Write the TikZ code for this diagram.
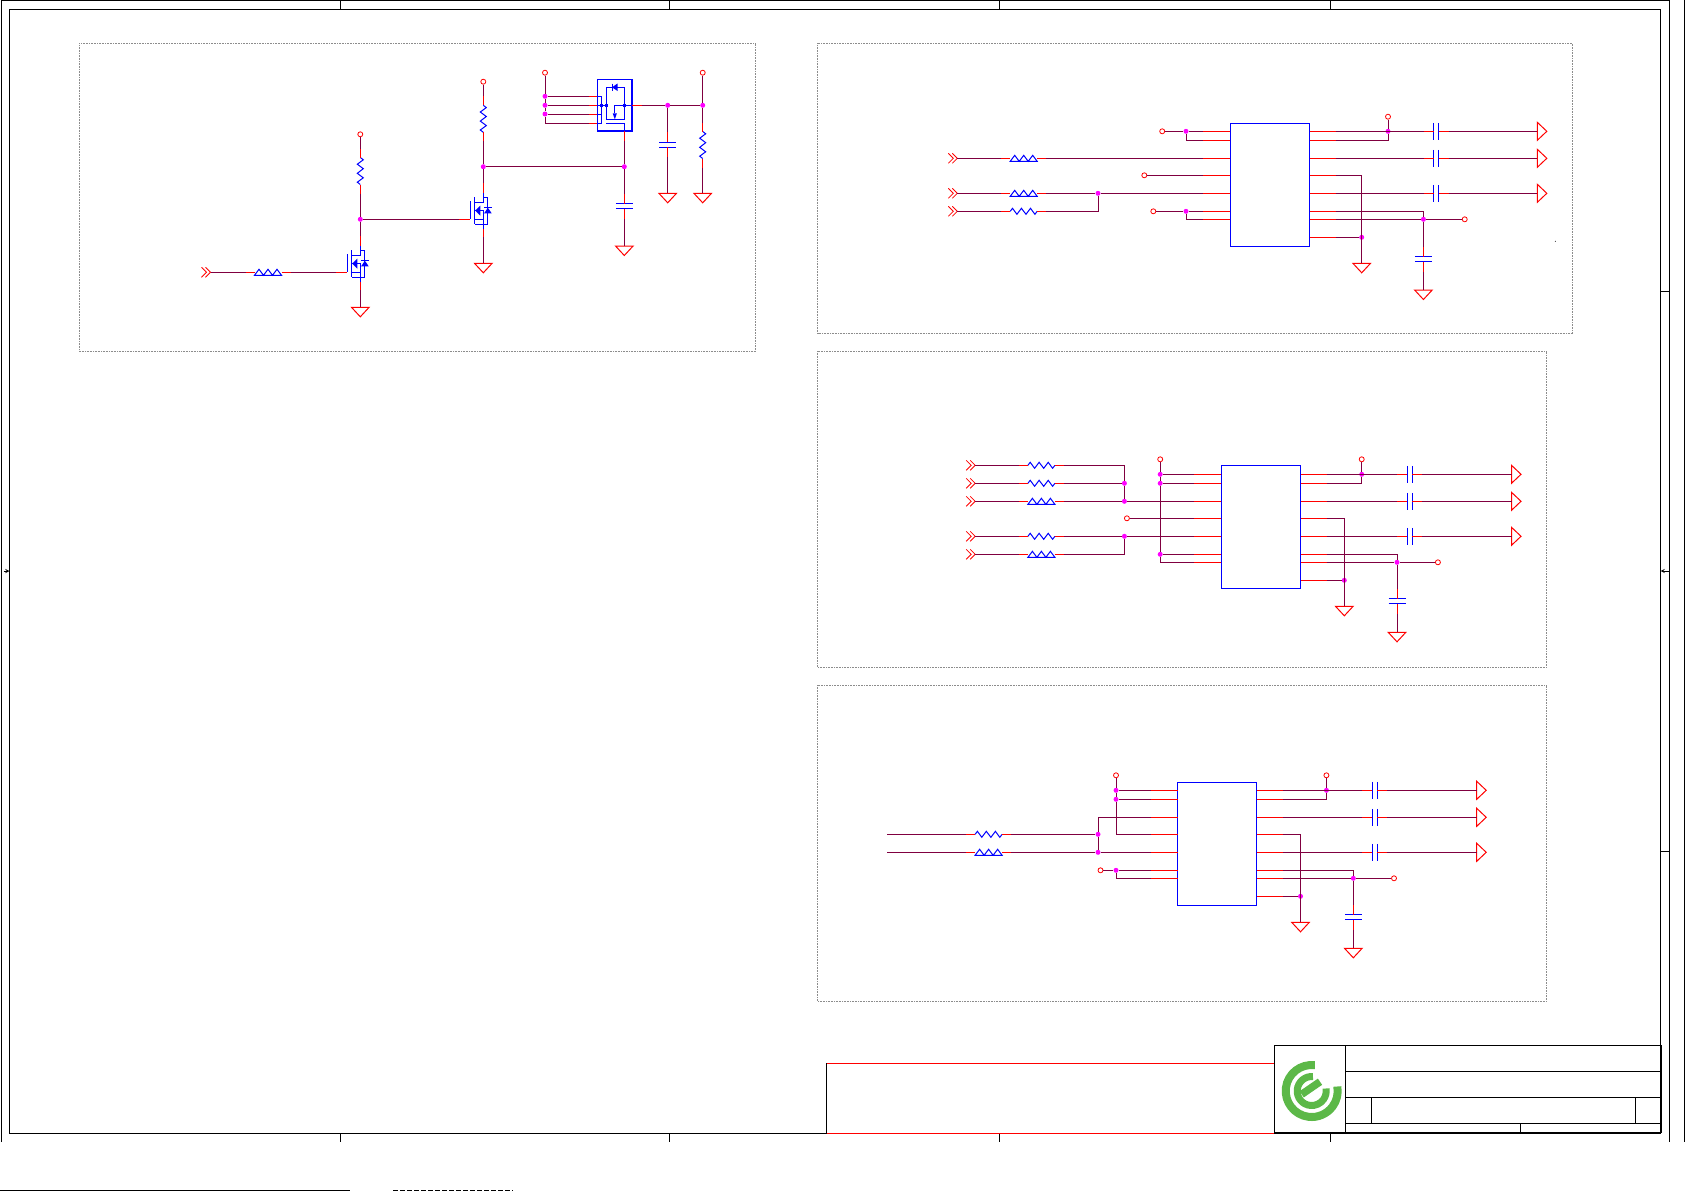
\documentclass[tikz,border=0pt]{standalone}
\definecolor{wirecol}{RGB}{128,0,64}
\definecolor{logocol}{RGB}{92,184,72}
\definecolor{jointcol}{RGB}{255,0,255}
\tikzset{
	x=1pt, y=-1pt,
	wirepath/.style={draw=wirecol, line width=1pt},
	pinline/.style={draw=red, line width=1pt},
	partline/.style={draw=blue, line width=1pt},
	sheetline/.style={draw=black, line width=.9pt},
	titleline/.style={draw=black, line width=1.1pt},
	panel/.style={draw=black!45, line width=.6pt, densely dotted},
	jdot/.style={circle, fill=jointcol, inner sep=0pt, minimum size=5pt},
	pdot/.style={rectangle, fill=blue, inner sep=0pt, minimum size=3pt},
	testpt/.style={circle, draw=red, fill=white, line width=.8pt, inner sep=0pt, minimum size=5pt},
	icbox/.style={rectangle, draw=blue, line width=1.1pt, inner sep=0pt, outer sep=0pt, anchor=north west, minimum width=78.9pt, minimum height=123pt},
	pics/hres/.style={code={
		\coordinate (-l) at (-22.5, 0);
		\coordinate (-r) at (22.5, 0);
		\draw [partline] (-13.5, 0) -- (-11.2, -3) -- (-6.8, 3) -- (-2.3, -3) -- (2.3, 3) -- (6.8, -3) -- (11.2, 3) -- (13.5, 0);
		\draw [pinline] (-l) -- (-13.5, 0) (13.5, 0) -- (-r);
	}},
	pics/hresb/.style={code={
		\coordinate (-l) at (-22.5, 0);
		\coordinate (-r) at (22.5, 0);
		\draw [partline] (-13.5, 3) -- (-9, -3) -- (-4.5, 3) -- (0, -3) -- (4.5, 3) -- (9, -3) -- (13.5, 3) -- cycle;
		\draw [pinline] (-l) -- (-13.5, 0) (13.5, 0) -- (-r);
	}},
	pics/caph/.style={code={
		\coordinate (-l) at (-12.5, 0);
		\coordinate (-r) at (12.5, 0);
		\draw [partline] (-2.5, -8.5) -- (-2.5, 8.5) (2.5, -8.5) -- (2.5, 8.5);
		\draw [pinline] (-l) -- (-2.5, 0) (2.5, 0) -- (-r);
	}},
	pics/gndsym/.style={code={
		\coordinate (-t) at (0, 0);
		\draw [pinline] (-8.8, 0) -- (8.8, 0) -- (0, 9.5) -- cycle;
	}},
	pics/inport/.style={code={
		\coordinate (-e) at (9, 0);
		\draw [pinline, line width=.8pt] (0, -5) -- (5, 0) -- (0, 5) (4, -5) -- (9, 0) -- (4, 5);
	}},
	pics/outtri/.style={code={
		\coordinate (-w) at (0, 0);
		\draw [pinline] (0, -9) -- (9.5, 0) -- (0, 9) -- cycle;
	}},
	pics/nmos/.style={code={
		\coordinate (-g) at (-24, 0);
		\coordinate (-d) at (0, -36);
		\coordinate (-s) at (0, 18);
		\draw [pinline] (-g) -- (-13, 0) (-d) -- (0, -26) (0, 9.4) -- (-s);
		\draw [partline] (-13, -18) -- (-13, 0) (-8.7, -22) -- (-8.7, 5);
		\draw [partline] (-8.7, -16.7) -- (0, -16.7) -- (0, -26);
		\draw [partline] (-8.7, -8.7) -- (0, -8.7) -- (0, 9.4) (-8.7, 0) -- (0, 0);
		\draw [partline] (0, -22) -- (4.6, -22) -- (4.6, 5) -- (-8.7, 5);
		\fill [blue] (-8.2, -8.7) -- (-3, -13.7) -- (-3, -3.7) -- cycle;
		\fill [blue] (.8, -6) -- (8.4, -6) -- (4.6, -11.5) -- cycle;
		\draw [partline] (.8, -11.5) -- (8.4, -11.5);
	}}
}
\begin{document}
\begin{tikzpicture}[>=stealth]
\useasboundingbox (0, 0) rectangle (1685, 1191);

% sheet
\draw [sheetline] (1, 1142) -- (1, .5) -- (1669, .5) -- (1669, 1142) (1684.5, 0) -- (1684.5, 1142);
\draw [sheetline] (9.5, 9) rectangle (1660.5, 1133);
\foreach \x in {340, 669.5, 999.5, 1330}
	\draw [sheetline, line width=.7pt] (\x, .5) -- (\x, 9) (\x, 1133) -- (\x, 1142);
\foreach \y in {291, 851}
	\draw [sheetline, line width=.7pt] (1660.5, \y) -- (1669, \y);
\draw [sheetline, ->] (1669, 571) -- (1660.5, 571);
\draw [sheetline, ->] (3.5, 571) -- (9.5, 571);
\draw [sheetline] (0, 1190.3) -- (350, 1190.3);
\draw [sheetline, dash pattern=on 5pt off 2pt] (393, 1190.3) -- (513, 1190.3);
\fill (1555.3, 241.3) circle (.5);

\foreach \xa/\ya/\xb/\yb in {79.3/43.3/755.6/351.3, 817.5/43.3/1572.7/333.3, 817.5/351/1546.3/667.3, 817.5/685/1546.3/1001.3}
	\draw [panel] (\xa, \ya) rectangle (\xb, \yb);

% title block
\draw [pinline] (826.7, 1063.3) -- (1274.3, 1063.3) (826.7, 1133.3) -- (1274.3, 1133.3);
\draw [sheetline, line width=.5pt] (826.7, 1063.3) -- (826.7, 1133.3);
\draw [titleline] (1274.3, 1045.3) rectangle (1661, 1132.7);
\draw [titleline] (1345.3, 1045.3) -- (1345.3, 1132.7) (1345.3, 1071.3) -- (1661, 1071.3) (1345.3, 1097.3) -- (1661, 1097.3) (1345.3, 1123.3) -- (1661, 1123.3);
\draw [titleline] (1371.3, 1097.3) -- (1371.3, 1123.3) (1635.3, 1097.3) -- (1635.3, 1123.3) (1520.4, 1123.3) -- (1520.4, 1132.7);
\coordinate (logo) at (1311.7, 1091);
\draw [logocol, line width=8pt] (logo) ++(83:26pt) arc [start angle=83, end angle=370, radius=26pt];
\draw [logocol, line width=7pt] (logo) ++(85:14.5pt) arc [start angle=85, end angle=370, radius=14.5pt];
\draw [logocol, line width=7.5pt] (1320, 1081.7) -- (1301.7, 1094.3);

% output stages, one per panel
\foreach \n/\ix/\iy/\o/\cx/\tx/\ax/\gx/\bx/\qx/\ty/\ga/\cy/\gb in {
	ua/1230.4/123.3/0/1436.2/1537.3/1388/1361.7/1423.4/1464.7/116.7/263.3/259.2/290,
	ub/1221.4/465.3/1/1409.8/1511.5/1361.7/1344.3/1397/1437.9/459.3/606.3/601.3/632.3,
	uc/1177.7/782.3/0/1374.7/1476.7/1326.4/1300.5/1353.3/1394/775.3/922.3/917.3/948.3} {
	\node [icbox] (\n) at (\ix, \iy) {};
	\foreach \k/\d in {1/8, 2/17, 3/35, 4/52, 5/70, 6/88, 7/96, 8/114} {
		\coordinate (\n-s\k) at ({\ix+105.1}, {\iy+\o+\d});
		\draw [pinline] ({\ix+79.1}, {\iy+\o+\d}) -- (\n-s\k);
	}
	\foreach \k/\d in {1/8, 2/17, 3/35, 4/52, 5/70, 6/88, 7/96} {
		\coordinate (\n-m\k) at ({\ix-27}, {\iy+\o+\d});
		\draw [pinline] (\ix, {\iy+\o+\d}) -- (\n-m\k);
	}
	\coordinate (\n-ax) at (\ax, 0);
	\coordinate (\n-gx) at (\gx, 0);
	\coordinate (\n-bx) at (\bx, 0);
	\node [jdot] (\n-a) at (\n-s1 -| \n-ax) {};
	\node [testpt] (\n-ta) at (\ax, \ty) {};
	\draw [wirepath] (\n-ta) -- (\n-a);
	\draw [wirepath] (\n-s2) -| (\n-a);
	\foreach \k in {1, 3, 5} {
		\coordinate (\n-px\k) at (\cx, 0);
		\coordinate (\n-ox\k) at (\tx, 0);
		\pic (\n-c\k) at (\n-s\k -| \n-px\k) {caph};
		\pic (\n-o\k) at (\n-s\k -| \n-ox\k) {outtri};
		\draw [wirepath] (\n-s\k) -- (\n-c\k-l);
		\draw [wirepath] (\n-c\k-r) -- (\n-o\k-w);
	}
	\pic (\n-ga) at (\gx, \ga) {gndsym};
	\node [jdot] (\n-k) at (\n-s8 -| \n-gx) {};
	\draw [wirepath] (\n-s4) -| (\n-ga-t);
	\draw [wirepath] (\n-s8) -- (\n-k);
	\node [jdot] (\n-b) at (\n-s7 -| \n-bx) {};
	\node [testpt] (\n-tb) at (\n-s7 -| \qx, 0) {};
	\draw [wirepath] (\n-s7) -- (\n-b) -- (\n-tb);
	\draw [wirepath] (\n-s6) -| (\n-b);
	\pic [rotate=90] (\n-c4) at (\bx, \cy) {caph};
	\pic (\n-gb) at (\bx, \gb) {gndsym};
	\draw [wirepath] (\n-b) -- (\n-c4-r);
	\draw [wirepath] (\n-c4-l) -- (\n-gb-t);
}

% inputs, panel 2
\node [testpt] (ta1) at (1162.2, 131.3) {};
\node [jdot] (ja1) at (1186, 131.3) {};
\draw [wirepath] (ta1) -- (ja1) -- (ua-m1);
\draw [wirepath] (ja1) |- (ua-m2);
\pic (pa1) at (948.3, 158.3) {inport};
\pic (ra1) at (1023.7, 158.3) {hresb};
\draw [wirepath] (pa1-e) -- (ra1-l) (ra1-r) -- (ua-m3);
\node [testpt] (ta2) at (1144.3, 175.3) {};
\draw [wirepath] (ta2) -- (ua-m4);
\pic (pa2) at (948.3, 193.3) {inport};
\pic (ra2) at (1023.7, 193.3) {hresb};
\node [jdot] (ja2) at (1098, 193.3) {};
\draw [wirepath] (pa2-e) -- (ra2-l) (ra2-r) -- (ja2) -- (ua-m5);
\pic (pa3) at (948.3, 211.3) {inport};
\pic (ra3) at (1023.7, 211.3) {hres};
\draw [wirepath] (pa3-e) -- (ra3-l);
\draw [wirepath] (ra3-r) -| (ja2);
\node [testpt] (ta3) at (1153.3, 211.3) {};
\node [jdot] (ja3) at (1186, 211.3) {};
\draw [wirepath] (ta3) -- (ja3) -- (ua-m6);
\draw [wirepath] (ja3) |- (ua-m7);

% inputs, panel 3
\foreach \k/\y/\kind in {1/465.3/hres, 2/483.3/hres, 3/501.3/hresb, 4/536.3/hres, 5/554.3/hresb} {
	\pic (pb\k) at (966.2, \y) {inport};
	\pic (rb\k) at (1041.4, \y) {\kind};
	\draw [wirepath] (pb\k-e) -- (rb\k-l);
}
\node [jdot] (jb1) at (1124.4, 483.3) {};
\node [jdot] (jb2) at (1124.4, 501.3) {};
\node [jdot] (jb3) at (1124.4, 536.3) {};
\draw [wirepath] (rb1-r) -| (jb1);
\draw [wirepath] (rb2-r) -- (jb1) -- (jb2);
\draw [wirepath] (rb3-r) -- (jb2) -- (ub-m3);
\draw [wirepath] (rb4-r) -- (jb3) -- (ub-m5);
\draw [wirepath] (rb5-r) -| (jb3);
\node [testpt] (tb1) at (1160.2, 459.3) {};
\node [jdot] (jb4) at (1160.2, 474.3) {};
\node [jdot] (jb5) at (1160.2, 483.3) {};
\node [jdot] (jb6) at (1160.2, 554.3) {};
\coordinate (cb1) at (1160.2, 562.3);
\draw [wirepath] (tb1) -- (jb4) -- (jb5) -- (jb6) -- (cb1) -- (ub-m7);
\draw [wirepath] (jb4) -- (ub-m1) (jb5) -- (ub-m2) (jb6) -- (ub-m6);
\node [testpt] (tb2) at (1126.9, 518.3) {};
\draw [wirepath] (tb2) -- (ub-m4);

% inputs, panel 4
\coordinate (sc1) at (887.1, 834.3);
\coordinate (sc2) at (887.1, 852.3);
\pic (rc1) at (988.6, 834.3) {hres};
\pic (rc2) at (988.6, 852.3) {hresb};
\node [jdot] (jc1) at (1098, 834.3) {};
\node [jdot] (jc2) at (1098, 852.3) {};
\coordinate (cc1) at (1098, 817.3);
\draw [wirepath] (sc1) -- (rc1-l) (rc1-r) -- (jc1);
\draw [wirepath] (sc2) -- (rc2-l) (rc2-r) -- (jc2) -- (uc-m5);
\draw [wirepath] (uc-m3) -- (cc1) -- (jc1) -- (jc2);
\node [testpt] (tc1) at (1116, 775.3) {};
\node [jdot] (jc3) at (1116, 790.3) {};
\node [jdot] (jc4) at (1116, 799.3) {};
\coordinate (cc2) at (1116, 834.3);
\draw [wirepath] (tc1) -- (jc3) -- (jc4) -- (cc2) -- (uc-m4);
\draw [wirepath] (jc3) -- (uc-m1) (jc4) -- (uc-m2);
\node [testpt] (tc2) at (1100.5, 870.3) {};
\node [jdot] (jc5) at (1116, 870.3) {};
\draw [wirepath] (tc2) -- (jc5) -- (uc-m6);
\draw [wirepath] (jc5) |- (uc-m7);

% panel 1, switch chain
\pic (p1) at (201.5, 272.3) {inport};
\pic (rg) at (268, 272.3) {hresb};
\pic (q1) at (360.3, 272.3) {nmos};
\pic (g1) at (360.3, 307.3) {gndsym};
\pic [rotate=90] (r1) at (360.3, 171) {hres};
\node [testpt] (t1) at (360.3, 134.3) {};
\node [jdot] (d1) at (360.3, 219.3) {};
\draw [wirepath] (p1-e) -- (rg-l) (rg-r) -- (q1-g);
\draw [wirepath] (t1) -- (r1-r) (r1-l) -- (d1) -- (q1-d) (q1-s) -- (g1-t);

\pic (q2) at (483.3, 219.3) {nmos};
\pic (g2) at (483.3, 263.3) {gndsym};
\pic [rotate=90] (r2) at (483.3, 118.8) {hres};
\node [testpt] (t2) at (483.3, 81.7) {};
\node [jdot] (d2) at (483.3, 166.7) {};
\draw [wirepath] (d1) -- (q2-g);
\draw [wirepath] (t2) -- (r2-r) (r2-l) -- (d2) -- (q2-d) (q2-s) -- (g2-t);

% panel 1, load switch
\node [icbox, minimum width=34.7pt, minimum height=51.7pt] (u1) at (597.3, 79.3) {};
\foreach \y in {96.3, 105.3, 114, 123}
	\draw [partline] (597.3, \y) -- (601.7, \y);
\draw [partline] (601.7, 96.3) -- (601.7, 123) (601.7, 105.3) -- (606.3, 105.3);
\draw [partline] (606.3, 87.3) rectangle (624.3, 119);
\draw [partline] (606.3, 123) -- (624.3, 123) -- (624.3, 131.3);
\draw [partline] (614.7, 105.3) -- (632.3, 105.3) (614.7, 105.3) -- (614.7, 113.3);
\fill [blue] (612.7, 113.3) -- (616.9, 113.3) -- (614.8, 119.3) -- cycle;
\fill [blue] (612, 87.3) -- (617.5, 83.5) -- (617.5, 91) -- cycle;
\draw [partline] (612, 83.5) -- (612, 91);
\node [pdot] (n1) at (601.7, 105.3) {};
\node [pdot] (n2) at (606.3, 105.3) {};
\node [pdot] (n3) at (624.3, 105.3) {};
\foreach \k/\y in {1/96.3, 2/105.3, 3/114, 4/123} {
	\coordinate (ue\k) at (589.3, \y);
	\draw [pinline] (ue\k) -- (597.3, \y);
}
\coordinate (uo) at (641.7, 105.3);
\coordinate (ug) at (624.3, 141.3);
\draw [pinline] (632.3, 105.3) -- (uo) (624.3, 131.3) -- (ug);

\node [testpt] (t3) at (545, 72.7) {};
\node [jdot] (d3) at (545, 96.3) {};
\node [jdot] (d4) at (545, 105.3) {};
\node [jdot] (d5) at (545, 114) {};
\coordinate (c4) at (545, 123);
\draw [wirepath] (t3) -- (d3) -- (d4) -- (d5) -- (c4) -- (ue4);
\draw [wirepath] (d3) -- (ue1) (d4) -- (ue2) (d5) -- (ue3);

\node [jdot] (d6) at (667.7, 105.3) {};
\node [jdot] (d7) at (702.7, 105.3) {};
\node [testpt] (t4) at (702.7, 72.7) {};
\pic [rotate=90] (c1) at (667.7, 144.8) {caph};
\pic [rotate=90] (r3) at (702.7, 145) {hres};
\pic (g3) at (667.7, 193.3) {gndsym};
\pic (g4) at (702.7, 193.3) {gndsym};
\draw [wirepath] (uo) -- (d6) -- (d7) (t4) -- (d7);
\draw [wirepath] (d6) -- (c1-r) (c1-l) -- (g3-t);
\draw [wirepath] (d7) -- (r3-r) (r3-l) -- (g4-t);

\node [jdot] (d8) at (624.3, 166.7) {};
\pic [rotate=90] (c2) at (624.3, 206.3) {caph};
\pic (g5) at (624.3, 246) {gndsym};
\draw [wirepath] (d2) -- (d8);
\draw [wirepath] (ug) -- (d8) -- (c2-r) (c2-l) -- (g5-t);

\end{tikzpicture}
\end{document}
